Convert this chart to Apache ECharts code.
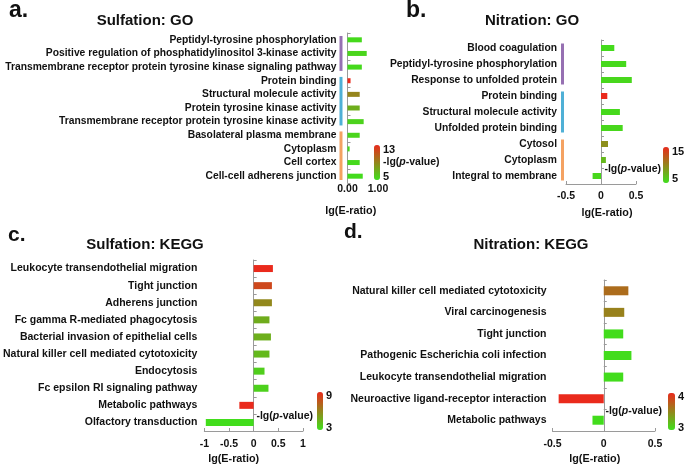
<!DOCTYPE html>
<html><head><meta charset="utf-8">
<script src="https://cdn.jsdelivr.net/npm/echarts/dist/echarts.min.js"></script>
<style>html,body{margin:0;padding:0;background:#fff}#c{width:685px;height:466px}</style>
</head><body><div id="c"></div>
<script>
// ---------- DATA ----------
const catA = ['Peptidyl-tyrosine phosphorylation','Positive regulation of phosphatidylinositol 3-kinase activity','Transmembrane receptor protein tyrosine kinase signaling pathway','Protein binding','Structural molecule activity','Protein tyrosine kinase activity','Transmembrane receptor protein tyrosine kinase activity','Basolateral plasma membrane','Cytoplasm','Cell cortex','Cell-cell adherens junction'];
const ratioA = [0.47, 0.63, 0.47, 0.10, 0.40, 0.40, 0.53, 0.40, 0.07, 0.40, 0.50];
const pA = [5.3, 5.5, 5.3, 13, 9, 7.2, 5.6, 5.5, 5.4, 5.3, 5.2];
const pRangeA = [5, 13];
const groupStartA = [0, 3, 7];
const groupEndA = [2, 6, 10];

const catB = ['Blood coagulation','Peptidyl-tyrosine phosphorylation','Response to unfolded protein','Protein binding','Structural molecule activity','Unfolded protein binding','Cytosol','Cytoplasm','Integral to membrane'];
const ratioB = [0.19, 0.36, 0.44, 0.09, 0.27, 0.31, 0.10, 0.07, -0.12];
const pB = [5.3, 5.4, 5.5, 15, 5.4, 5.5, 9.5, 7.2, 5.5];
const pRangeB = [5, 15];
const groupStartB = [0, 3, 6];
const groupEndB = [2, 5, 8];

const catC = ['Leukocyte transendothelial migration','Tight junction','Adherens junction','Fc gamma R-mediated phagocytosis','Bacterial invasion of epithelial cells','Natural killer cell mediated cytotoxicity','Endocytosis','Fc epsilon RI signaling pathway','Metabolic pathways','Olfactory transduction'];
const ratioC = [0.39, 0.37, 0.37, 0.32, 0.35, 0.32, 0.22, 0.30, -0.29, -0.97];
const pC = [9, 8, 5.9, 4.7, 4.6, 4.3, 3.6, 3.5, 9, 3.1];
const pRangeC = [3, 9];

const catD = ['Natural killer cell mediated cytotoxicity','Viral carcinogenesis','Tight junction','Pathogenic Escherichia coli infection','Leukocyte transendothelial migration','Neuroactive ligand-receptor interaction','Metabolic pathways'];
const ratioD = [0.24, 0.20, 0.19, 0.27, 0.19, -0.44, -0.11];
const pD = [3.64, 3.52, 3.02, 3.02, 3.02, 4, 3.02];
const pRangeD = [3, 4];

const titles = ['Sulfation: GO', 'Nitration: GO', 'Sulfation: KEGG', 'Nitration: KEGG'];
const letters = ['a.', 'b.', 'c.', 'd.'];
const xName = 'lg(E-ratio)';
const vmName = '-lg({i|p}-value)';

// ---------- STYLE / LAYOUT ----------
const FONT = "'Liberation Sans', Arial, Helvetica, sans-serif";
const GREEN = '#3fe01c', RED = '#ea2a1c';
const groupColors = ['#9670b2', '#4fb0d6', '#f4a262'];
const AXIS = '#9a9a9a';

const panels = [
  {cat: catA, ratio: ratioA, p: pA, range: pRangeA, gs: groupStartA, ge: groupEndA,
   grid: {left: 347.5, top: 33, width: 30.5, height: 150}, min: 0, max: 1, interval: 1, fmt: v => v.toFixed(2),
   showXLine: false, xLabelMargin: 1, yLabelMargin: 11, barW: 5, fs: 10.3, nameGap: 23, namePad: [0, 24, 0, 0], gdx: -6.5, ginset: 3,
   vm: {left: 374, top: 145, w: 6, h: 35}, vmText: {hiX: 383, hiY: 150, loX: 383, loY: 177, nX: 383, nY: 162, nAlign: 'left'}},
  {cat: catB, ratio: ratioB, p: pB, range: pRangeB, gs: groupStartB, ge: groupEndB,
   grid: {left: 566, top: 40, width: 70, height: 144}, min: -0.5, max: 0.5, interval: 0.5, fmt: v => String(v),
   showXLine: true, xLabelMargin: 7, yLabelMargin: 9, barW: 6, fs: 10.3, nameGap: 24, namePad: [0, 0, 0, 12], gdx: -3.5, ginset: 3.5,
   vm: {left: 663, top: 147, w: 6, h: 36}, vmText: {hiX: 672, hiY: 152, loX: 672, loY: 179, nX: 661, nY: 169, nAlign: 'right'}},
  {cat: catC, ratio: ratioC, p: pC, range: pRangeC,
   grid: {left: 202, top: 260, width: 101, height: 172}, min: -1, max: 1, interval: 0.5, fmt: v => String(v),
   showXLine: true, xLabelMargin: 8, yLabelMargin: 7, barW: 7, fs: 10.5, nameGap: 23, namePad: [0, 40, 0, 0],
   vm: {left: 317, top: 392, w: 6, h: 38}, vmText: {hiX: 326, hiY: 396, loX: 326, loY: 428, nX: 313, nY: 416, nAlign: 'right'}},
  {cat: catD, ratio: ratioD, p: pD, range: pRangeD,
   grid: {left: 552.5, top: 280, width: 102.5, height: 152}, min: -0.5, max: 0.5, interval: 0.5, fmt: v => String(v),
   showXLine: true, xLabelMargin: 8, yLabelMargin: 6, barW: 9, fs: 10.5, nameGap: 23, namePad: [0, 18, 0, 0],
   vm: {left: 668, top: 393, w: 7, h: 37}, vmText: {hiX: 678, hiY: 397, loX: 678, loY: 428, nX: 662, nY: 411, nAlign: 'right'}}
];
const titlePos = [{x: 145, y: 21}, {x: 532, y: 21}, {x: 145, y: 245}, {x: 531, y: 245}];
const letterPos = [{x: 9, y: 11, s: 23}, {x: 406, y: 11, s: 23}, {x: 8, y: 235, s: 21}, {x: 344, y: 232, s: 21}];

const option = {
  backgroundColor: '#fff', animation: false,
  textStyle: {fontFamily: FONT},
  grid: [], xAxis: [], yAxis: [], series: [], visualMap: [], graphic: []
};

panels.forEach((P, i) => {
  option.grid.push(Object.assign({containLabel: false}, P.grid));
  option.xAxis.push({
    type: 'value', gridIndex: i, min: P.min, max: P.max, interval: P.interval,
    splitLine: {show: false},
    axisLine: {show: P.showXLine, onZero: false, lineStyle: {color: AXIS, width: 1}},
    axisTick: {show: P.showXLine, inside: true, length: 3, lineStyle: {color: AXIS}},
    axisLabel: {formatter: P.fmt, margin: P.xLabelMargin, color: '#111', fontWeight: 'bold', fontSize: 10.5, fontFamily: FONT},
    name: xName, nameLocation: 'middle', nameGap: P.nameGap,
    nameTextStyle: {color: '#111', fontWeight: 'bold', fontSize: 10.8, fontFamily: FONT, padding: P.namePad}
  });
  // label axis (at grid left)
  option.yAxis.push({
    type: 'category', gridIndex: i, data: P.cat, inverse: true,
    axisLine: {show: false, onZero: false}, axisTick: {show: false},
    axisLabel: {margin: P.yLabelMargin, color: '#111', fontWeight: 'bold', fontSize: P.fs, fontFamily: FONT, interval: 0}
  });
  // line axis (at x = 0)
  option.yAxis.push({
    type: 'category', gridIndex: i, data: P.cat, inverse: true,
    axisLine: {show: true, onZero: true, onZeroAxisIndex: i, lineStyle: {color: AXIS, width: 1}},
    axisTick: {show: true, length: 3, lineStyle: {color: AXIS}},
    axisLabel: {show: false}
  });
  const si = option.series.length;
  option.series.push({
    type: 'bar', xAxisIndex: i, yAxisIndex: 2 * i + 1, barWidth: P.barW,
    encode: {x: 0, y: 1},
    data: P.ratio.map((v, k) => [v, k, P.p[k]])
  });
  if (P.gs) {
    const xMin = P.min, dx = P.gdx, inset = P.ginset;
    option.series.push({
      type: 'custom', xAxisIndex: i, yAxisIndex: 2 * i + 1, clip: false, silent: true,
      encode: {y: [0, 1]},
      data: P.gs.map((s, k) => [s, P.ge[k]]),
      renderItem: function (params, api) {
        const s = api.value(0), e = api.value(1);
        const a = api.coord([xMin, s]);
        const b = api.coord([xMin, e]);
        const band = api.size([0, 1])[1];
        const y0 = Math.min(a[1], b[1]) - band / 2 + inset;
        const y1 = Math.max(a[1], b[1]) + band / 2 - inset;
        return {type: 'rect', shape: {x: a[0] + dx - 1.5, y: y0, width: 3, height: y1 - y0},
                style: {fill: groupColors[params.dataIndex]}};
      }
    });
  }
  option.visualMap.push({
    type: 'continuous', seriesIndex: si, dimension: 2, min: P.range[0], max: P.range[1],
    inRange: {color: [GREEN, RED]}, orient: 'vertical', calculable: false,
    left: P.vm.left, top: P.vm.top, itemWidth: P.vm.w, itemHeight: P.vm.h, padding: 0, text: null
  });
  const T = P.vmText;
  const tfont = {fontWeight: 'bold', fontSize: 11, fontFamily: FONT, fill: '#111'};
  option.graphic.push({type: 'text', x: T.hiX, y: T.hiY, style: Object.assign({text: String(P.range[1]), align: 'left', verticalAlign: 'middle'}, tfont)});
  option.graphic.push({type: 'text', x: T.loX, y: T.loY, style: Object.assign({text: String(P.range[0]), align: 'left', verticalAlign: 'middle'}, tfont)});
  option.graphic.push({type: 'text', x: T.nX, y: T.nY, style: Object.assign({text: vmName, align: T.nAlign, verticalAlign: 'middle',
    rich: {i: {fontStyle: 'italic', fontWeight: 'bold', fontSize: 10.5, fontFamily: FONT, fill: '#111'}}}, tfont, {fontSize: 10.5})});
  option.graphic.push({type: 'text', x: titlePos[i].x, y: titlePos[i].y, style: {text: titles[i], align: 'center', verticalAlign: 'middle', fontWeight: 'bold', fontSize: 15, fontFamily: FONT, fill: '#111'}});
  option.graphic.push({type: 'text', x: letterPos[i].x, y: letterPos[i].y, style: {text: letters[i], align: 'left', verticalAlign: 'middle', fontWeight: 'bold', fontSize: letterPos[i].s, fontFamily: FONT, fill: '#111'}});
});

const chart = echarts.init(document.getElementById('c'), null, {renderer: 'canvas'});
chart.setOption(option);
</script>
</body></html>
